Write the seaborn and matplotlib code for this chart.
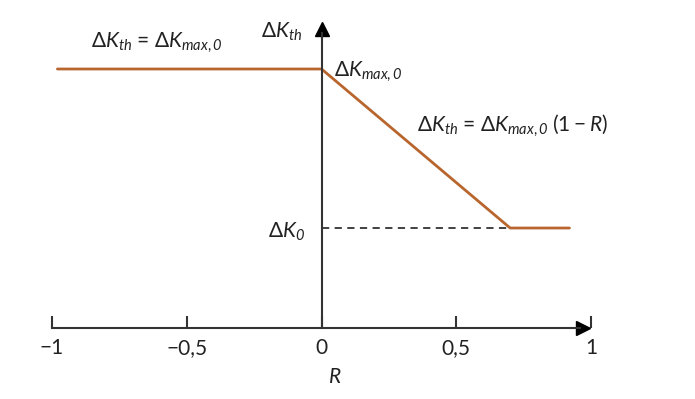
import numpy as np
import matplotlib
matplotlib.use("Agg")
import matplotlib.pyplot as plt
import seaborn as sns
import pandas as pd

# threshold curve
R_pts = [-0.98, 0.0, 0.70, 0.92]
dK_pts = [1.0, 1.0, 0.386, 0.386]
# dashed guide to the lower plateau
guide_R = [0.0, 0.70]
guide_dK = [0.386, 0.386]
tick_vals = [-1, -0.5, 0, 0.5, 1]
tick_labels = ["\u22121", "\u22120,5", "0", "0,5", "1"]

sns.set_theme(style="white")
plt.rcParams['font.family'] = ['Lato', 'DejaVu Sans']
plt.rcParams['mathtext.fontset'] = 'custom'
plt.rcParams['mathtext.rm'] = 'Lato'
plt.rcParams['mathtext.it'] = 'Lato:italic'
plt.rcParams['mathtext.sf'] = 'Lato:italic'  # italic digits in subscripts

brown = '#b8662e'
dark = '#333333'
txt = '#222222'

df = pd.DataFrame({'R': R_pts, 'dK': dK_pts})

fig = plt.figure(figsize=(6.95, 3.99), dpi=100)
# x: -1 -> px 52, 1 -> px 591 ; y: 0 -> px 328 from top, 1 -> px 69
ax = fig.add_axes([11.6 / 695, 6.25 / 399, 646.8 / 695, 388.5 / 399])
ax.set_xlim(-1.15, 1.25)
ax.set_ylim(-0.25, 1.25)

sns.lineplot(data=df, x='R', y='dK', ax=ax, color=brown, lw=2,
             estimator=None, sort=False)
ax.plot(guide_R, guide_dK, color=dark, ls=(0, (4, 3)), lw=1.3)

for side in ['top', 'right']:
    ax.spines[side].set_visible(False)
ax.spines['bottom'].set_position(('data', 0))
ax.spines['bottom'].set_bounds(-1, 0.96)
ax.spines['left'].set_position(('data', 0))
ax.spines['left'].set_bounds(0, 1.14)
for side in ['bottom', 'left']:
    ax.spines[side].set_color(dark)
    ax.spines[side].set_linewidth(1.5)

# arrow heads
ax.plot([0.97], [0], marker='>', ms=10, color='black', clip_on=False)
ax.plot([0], [1.155], marker='^', ms=10, color='black', clip_on=False)

ax.set_xticks(tick_vals)
ax.set_xticklabels(tick_labels)
ax.set_yticks([])
ax.tick_params(axis='x', direction='in', length=9, width=1.5, color=dark,
               pad=7, labelsize=15, labelcolor=txt, bottom=True)
ax.set_xlabel('$R$', fontsize=15, color=txt, labelpad=7)
ax.set_ylabel('')

fs = 15
ax.text(-0.07, 1.143, r'$\Delta K_{th}$', ha='right', va='center', fontsize=fs, color=txt)
ax.text(0.045, 0.99, r'$\Delta K_{max,\mathsf{0}}$', ha='left', va='center', fontsize=fs, color=txt)
ax.text(-0.61, 1.10, r'$\Delta K_{th}$ = $\Delta K_{max,\mathsf{0}}$', ha='center', va='center',
        fontsize=fs, color=txt)
ax.text(0.356, 0.78, r'$\Delta K_{th}$ = $\Delta K_{max,\mathsf{0}}\;(1\:-\:R)$', ha='left',
        va='center', fontsize=fs, color=txt)
ax.text(-0.06, 0.37, r'$\Delta K_{\mathsf{0}}$', ha='right', va='center', fontsize=fs, color=txt)

fig.savefig('out.png', dpi=100)
